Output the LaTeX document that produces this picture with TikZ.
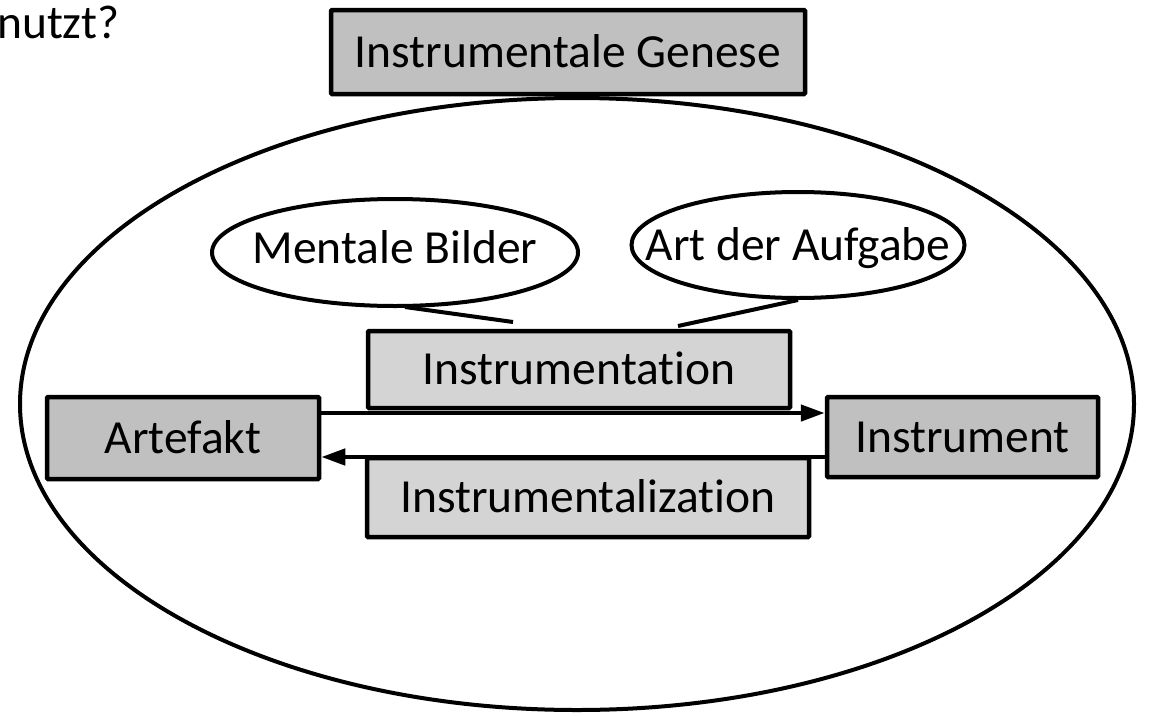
\documentclass[tikz,border=0pt]{standalone}
\usepackage{fontspec}
\setmainfont{Carlito}[Ligatures={NoCommon,NoContextual}]
\usetikzlibrary{shapes.geometric,arrows.meta,calc}
\definecolor{boxdark}{RGB}{192,192,192}
\definecolor{boxlight}{RGB}{212,212,212}
\begin{document}
\begin{tikzpicture}[x=1pt,y=-1pt,
  txt/.style={font=\fontsize{47.5}{56}\selectfont, text height=30pt, text depth=0pt, inner sep=0pt},
  darkbox/.style={draw, line width=4.5pt, fill=boxdark, rounded corners=1pt, inner sep=0pt, txt},
  lightbox/.style={draw, line width=4.5pt, fill=boxlight, rounded corners=1pt, inner sep=0pt, txt},
  bubble/.style={draw, ellipse, line width=4pt, inner sep=0pt},
  arr/.style={line width=4.5pt, -{Triangle[length=24pt,width=16pt]}},
  tail/.style={line width=4pt}]
\fill[white] (0,0) rectangle (1153,715);
\useasboundingbox (0,0) rectangle (1153,715);

\node[txt, anchor=base west] (q) at (-3,38) {nutzt?};
\node[darkbox, minimum width=474pt, minimum height=84pt] (title) at (568,52) {Instrumentale Genese};
\node[bubble, minimum width=1114pt, minimum height=612pt] (genese) at (577,404) {};

\node[bubble, minimum width=366pt, minimum height=107pt,
      label={[txt, yshift=4pt]center:Mentale Bilder}] (bild) at (395,252.5) {};
\node[bubble, minimum width=333pt, minimum height=106pt,
      label={[txt]center:Art der Aufgabe}] (aufg) at (798,245) {};

\coordinate (bildtip) at (513,322);
\coordinate (aufgtip) at (678,326);
\draw[tail] ($(bild.south)+(10,-1)$) -- (bildtip);
\draw[tail] (aufg.south) -- (aufgtip);

\node[lightbox, minimum width=422pt, minimum height=77pt] (imt) at (579,369.5) {Instrumentation};
\node[lightbox, minimum width=442pt, minimum height=79pt] (imz) at (588,497.5) {Instrumentalization};

\node[darkbox, minimum width=272pt, minimum height=82pt] (art) at (183,438) {Artefakt};
\node[darkbox, minimum width=271pt, minimum height=80pt] (ins) at (962.5,437) {Instrument};

\draw[arr] ($(art.east)+(0,-25)$) -- ($(art.east -| ins.west)+(0,-25)$);
\draw[arr] ($(ins.west)+(0,20)$) -- ($(ins.west -| art.east)+(0,20)$);
\end{tikzpicture}
\end{document}
